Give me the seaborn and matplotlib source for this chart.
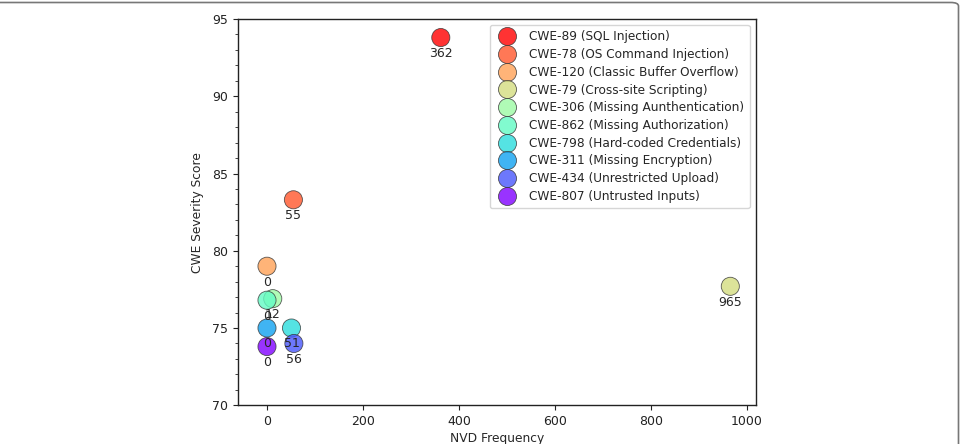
import matplotlib
matplotlib.use("Agg")
import matplotlib.pyplot as plt
from matplotlib.patches import FancyBboxPatch
from matplotlib.ticker import MultipleLocator
import seaborn as sns
import pandas as pd
import numpy as np

# values
cwe_labels = [
    "CWE-89 (SQL Injection)",
    "CWE-78 (OS Command Injection)",
    "CWE-120 (Classic Buffer Overflow)",
    "CWE-79 (Cross-site Scripting)",
    "CWE-306 (Missing Aunthentication)",
    "CWE-862 (Missing Authorization)",
    "CWE-798 (Hard-coded Credentials)",
    "CWE-311 (Missing Encryption)",
    "CWE-434 (Unrestricted Upload)",
    "CWE-807 (Untrusted Inputs)",
]
nvd_frequency = [362, 55, 0, 965, 12, 0, 51, 0, 56, 0]
severity_score = [93.8, 83.3, 79.0, 77.7, 76.9, 76.8, 75.0, 75.0, 74.0, 73.8]

df = pd.DataFrame({"cwe": cwe_labels, "freq": nvd_frequency, "score": severity_score})

sns.set_style("ticks")
plt.rcParams["font.family"] = ["DejaVu Sans"]

fig = plt.figure(figsize=(9.62, 4.44), dpi=100)
ax = fig.add_axes([0.2471, 0.0872, 0.5385, 0.8700])

palette = [plt.cm.rainbow(v) for v in np.linspace(1, 0, len(cwe_labels))]
sns.scatterplot(data=df, x="freq", y="score", hue="cwe", palette=palette,
                s=170, alpha=0.8, edgecolor="#333333", linewidth=0.6, ax=ax)

for _, row in df.iterrows():
    ax.annotate(str(row["freq"]), (row["freq"], row["score"]),
                xytext=(0, -11.5), textcoords="offset points",
                ha="center", va="center", fontsize=9)

ax.set_xlim(-61, 1018)
ax.set_ylim(70, 95)
ax.yaxis.set_minor_locator(MultipleLocator(1))
ax.tick_params(labelsize=9, colors="#222222")
ax.tick_params(which="minor", length=2)
for sp in ax.spines.values():
    sp.set_color("#222222")
    sp.set_linewidth(1.0)
ax.set_xlabel("NVD Frequency", fontsize=8.8, labelpad=3)
ax.set_ylabel("CWE Severity Score", fontsize=8.8, labelpad=6)

leg = ax.legend(loc="upper right", fontsize=8.7, frameon=True, markerscale=1.0,
                borderpad=0.45, labelspacing=0.39, handletextpad=0.8)
leg.get_frame().set_edgecolor("#cccccc")
for h in leg.legend_handles:
    h.set_markersize(13)
    h.set_alpha(0.8)
    h.set_markeredgecolor("#333333")
    h.set_markeredgewidth(0.6)

# journal frame around the figure
frame = FancyBboxPatch((-0.05, -0.1), 0.05 + 958.5 / 962, 1.1 - 2.5 / 444,
                       boxstyle="round,pad=0,rounding_size=0.008",
                       transform=fig.transFigure, facecolor="none",
                       edgecolor="#777777", linewidth=1.2, clip_on=False)
fig.patches.append(frame)

fig.savefig("out.png", dpi=100)
